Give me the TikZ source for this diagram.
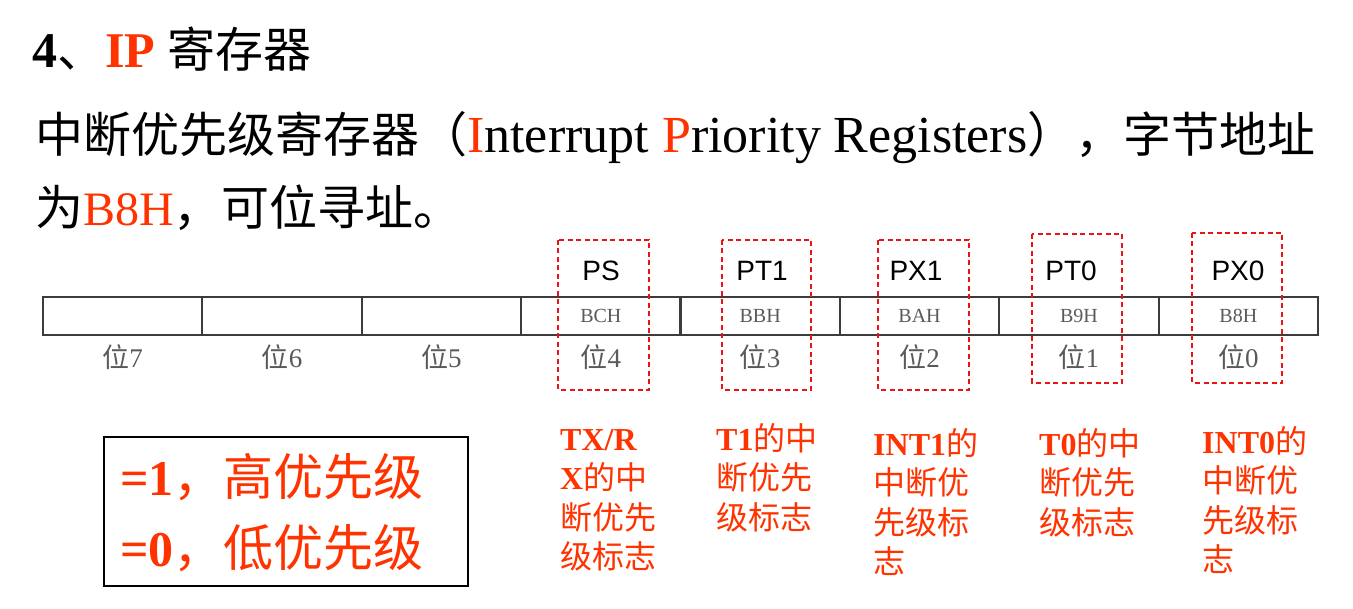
\documentclass[tikz,border=0pt]{standalone}
\usepackage{fontspec}
\setmainfont{Liberation Serif}
\setsansfont{Liberation Sans}
\newfontfamily\cjk{Noto Sans CJK SC}
\definecolor{tred}{RGB}{255,51,0}
\definecolor{dred}{RGB}{235,20,20}
\definecolor{lbl}{RGB}{90,90,90}
\definecolor{barline}{RGB}{60,60,60}
\begin{document}
\begin{tikzpicture}[x=1pt,y=-1pt,
  txt/.style={inner sep=0pt,anchor=base west},
  cell/.style={draw=barline,line width=2.2pt,minimum width=159.375pt,minimum height=38pt,inner sep=0pt,
     font=\fontsize{20}{21}\selectfont\color{lbl}},
  bitlbl/.style={inner sep=0pt,font=\fontsize{27}{28}\selectfont\color{lbl}},
  hdr/.style={inner sep=0pt,font=\sffamily\fontsize{28}{30}\selectfont},
  dbox/.style={draw=dred,line width=1.8pt,dash pattern=on 5pt off 3.5pt},
  note/.style={inner sep=0pt,anchor=north west,align=left,text=tred,font=\fontsize{32}{39.5}\selectfont}
]
\useasboundingbox (0,0) rectangle (1353,609);
\fill[white] (0,0) rectangle (1353,609);

% title lines
\node[txt,font=\fontsize{48}{56}\selectfont] (title) at (32,68)
  {{\fontsize{50}{56}\selectfont\textbf{4}}{\cjk 、}{\fontsize{50}{56}\selectfont\textbf{\color{tred}IP}} {\cjk 寄存器}};
\node[txt,font=\fontsize{48}{56}\selectfont] (line2) at (35,153)
  {{\cjk 中断优先级寄存器（}{\fontsize{52}{56}\selectfont{\color{tred}I}nterrupt {\color{tred}P}riority Registers}{\cjk ），字节地址}};
\node[txt,font=\fontsize{48}{56}\selectfont] (line3) at (35,226)
  {{\cjk 为}{\color{tred}B8H}{\cjk ，可位寻址。}};

% register bar
\foreach \k/\b/\a in {0/7/,1/6/,2/5/,3/4/BCH,4/3/BBH,5/2/BAH,6/1/B9H,7/0/B8H}{
  \node[cell] (c\b) at ({43+159.375*(\k+0.5)},316) {\a};
  \node[bitlbl] (b\b) at ([yshift=-41pt]c\b.center) {{\cjk 位}\b};
}

% headers
\node[hdr] (hPS)  at (601,271) {PS};
\node[hdr] (hPT1) at (762,271) {PT1};
\node[hdr] (hPX1) at (916,271) {PX1};
\node[hdr] (hPT0) at (1071,271) {PT0};
\node[hdr] (hPX0) at (1238,271) {PX0};

% dashed boxes
\draw[dbox] (558,240) rectangle (649,390);
\draw[dbox] (722,240) rectangle (811,390);
\draw[dbox] (878,240) rectangle (969,390);
\draw[dbox] (1032,234) rectangle (1122,383);
\draw[dbox] (1192,233) rectangle (1282,383);

% notes
\node[note] (n4) at (560,429) {\textbf{TX/R}\\\textbf{X}{\cjk 的中}\\{\cjk 断优先}\\{\cjk 级标志}};
\node[note] (n3) at (716,423) {\textbf{T1}{\cjk 的中}\\{\cjk 断优先}\\{\cjk 级标志}};
\node[note] (n2) at (873,428) {\textbf{INT1}{\cjk 的}\\{\cjk 中断优}\\{\cjk 先级标}\\{\cjk 志}};
\node[note] (n1) at (1039,428) {\textbf{T0}{\cjk 的中}\\{\cjk 断优先}\\{\cjk 级标志}};
\node[note] (n0) at (1202,426) {\textbf{INT0}{\cjk 的}\\{\cjk 中断优}\\{\cjk 先级标}\\{\cjk 志}};

% legend box
\draw[line width=1.8pt] (104,437) rectangle (468,586);
\node[txt,text=tred,font=\fontsize{50}{54}\selectfont] (hi) at (120,496) {\textbf{=1}{\cjk ，高优先级}};
\node[txt,text=tred,font=\fontsize{50}{54}\selectfont] (lo) at (120,566) {\textbf{=0}{\cjk ，低优先级}};
\end{tikzpicture}
\end{document}
